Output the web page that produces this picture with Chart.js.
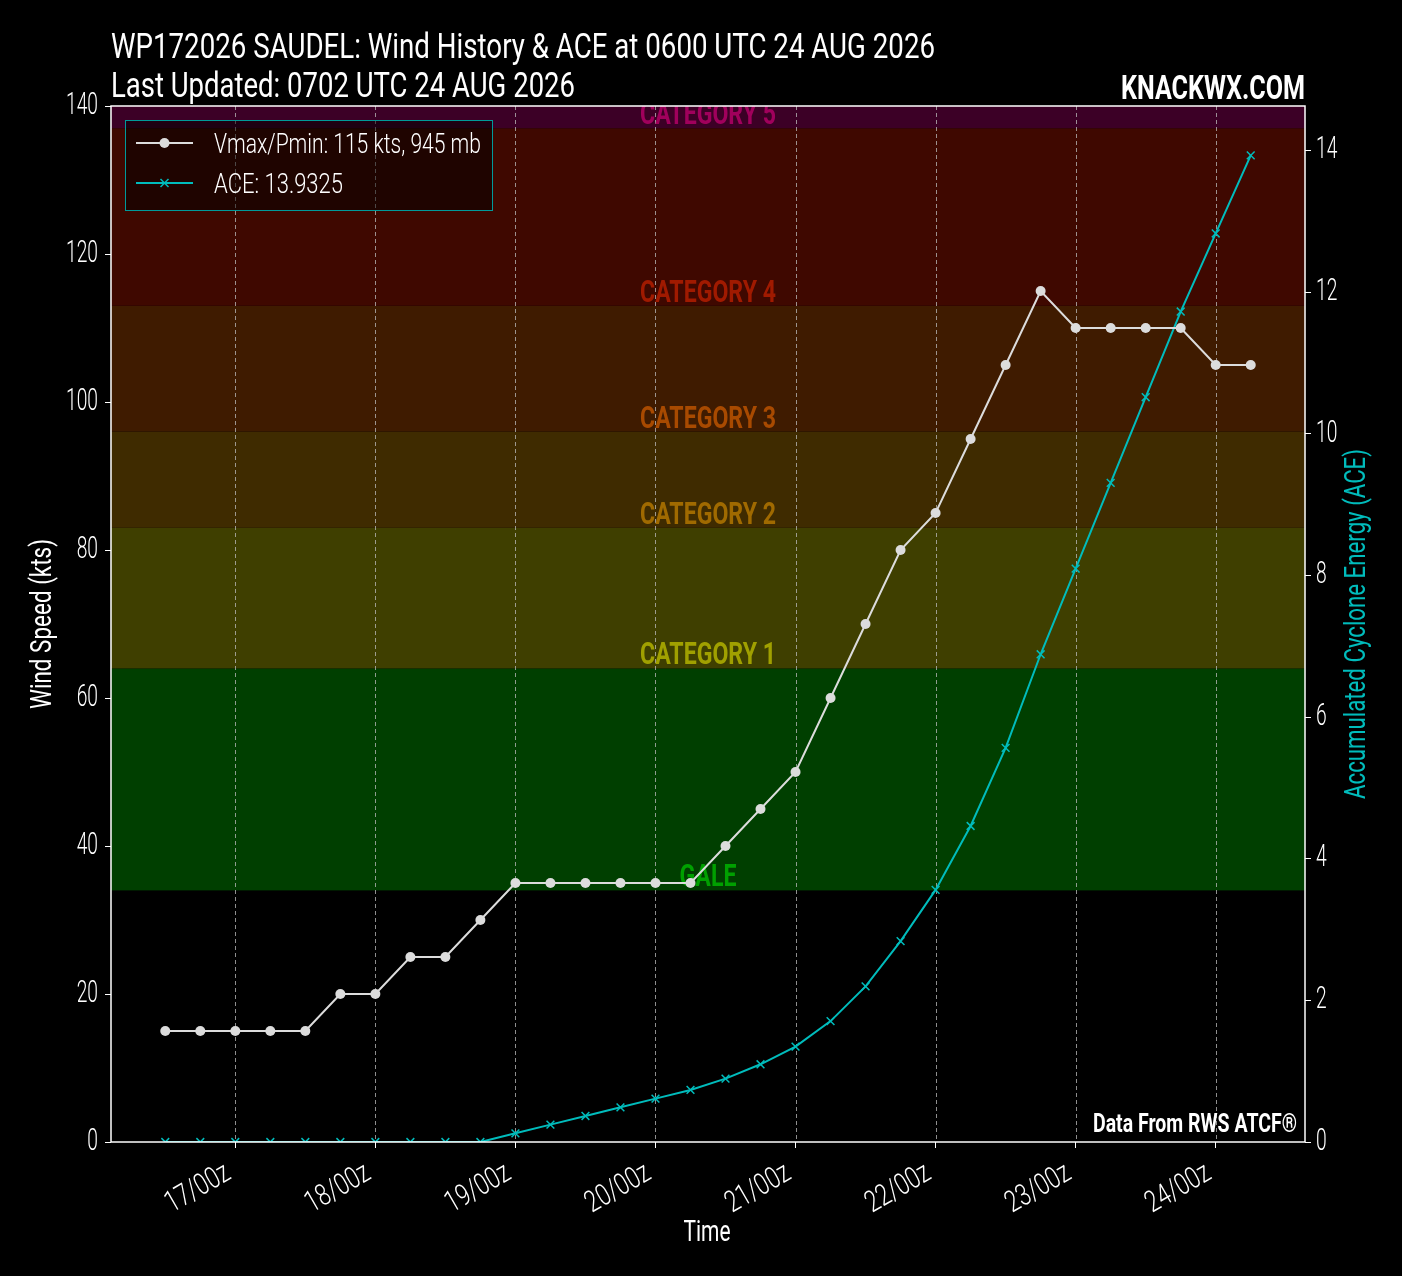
<!DOCTYPE html>
<html>
<head>
<meta charset="utf-8">
<script src="https://cdn.jsdelivr.net/npm/chart.js@4.4.1/dist/chart.umd.min.js"></script>
<style>
html,body{margin:0;padding:0;background:#000;}
#wrap{position:relative;width:1402px;height:1276px;}
canvas{display:block;}
</style>
</head>
<body>
<div id="wrap"><canvas id="c" width="1402" height="1276"></canvas></div>
<script>
// ---- data ----
// hours since 16/00z, 6-hourly fixes
const fixHours = [12,18,24,30,36,42,48,54,60,66,72,78,84,90,96,102,108,114,120,126,132,138,144,150,156,162,168,174,180,186,192,198];
const windKts = [15,15,15,15,15,20,20,25,25,30,35,35,35,35,35,35,40,45,50,60,70,80,85,95,105,115,110,110,110,110,105,105];
const aceValues = [0,0,0,0,0,0,0,0,0,0,0.1225,0.245,0.3675,0.49,0.6125,0.735,0.895,1.0975,1.3475,1.7075,2.1975,2.8375,3.56,4.4625,5.565,6.8875,8.0975,9.3075,10.5175,11.7275,12.83,13.9325];
const dayTickHours = [24,48,72,96,120,144,168,192];
const dayTickLabels = ['17/00z','18/00z','19/00z','20/00z','21/00z','22/00z','23/00z','24/00z'];
const windTicks = [0,20,40,60,80,100,120,140];
const aceTicks = [0,2,4,6,8,10,12,14];
const bandNames = ['GALE','CATEGORY 1','CATEGORY 2','CATEGORY 3','CATEGORY 4','CATEGORY 5'];
const bandLow = [34,64,83,96,113,137];
const bandHigh = [64,83,96,113,137,200];
const bandFill = ['#003f00','#3f3f00','#3f2b00','#3f1b00','#3f0800','#3c0026'];
const bandText = ['#00a000','#a0a000','#a06a00','#a84a00','#a01a00','#a0005c'];
const titleLine1 = 'WP172026 SAUDEL: Wind History & ACE at 0600 UTC 24 AUG 2026';
const titleLine2 = 'Last Updated: 0702 UTC 24 AUG 2026';
const legendWind = 'Vmax/Pmin: 115 kts, 945 mb';
const legendAce = 'ACE: 13.9325';

const FONT = 'Roboto, "Noto Sans", sans-serif';
const WIND_COLOR = '#dcdcdc';
const ACE_COLOR = '#00bcbc';

const xMin = 12 - 9.3, xMax = 198 + 9.3;

// condensed text helper: squeezes text horizontally to mimic a narrow face
function txt(ctx, s, x, y, o) {
  ctx.save();
  ctx.translate(x, y);
  if (o.rot) ctx.rotate(o.rot);
  ctx.font = o.font;
  const w = ctx.measureText(s).width;
  const k = o.width ? o.width / w : (o.k || 1);
  ctx.scale(k, 1);
  ctx.fillStyle = o.color || '#ffffff';
  ctx.textAlign = 'left';
  ctx.textBaseline = o.baseline || 'alphabetic';
  const off = o.align === 'right' ? -w : o.align === 'center' ? -w / 2 : 0;
  ctx.fillText(s, off, 0);
  ctx.restore();
}
function kFor(ctx, s, font, width) { ctx.save(); ctx.font = font; const w = ctx.measureText(s).width; ctx.restore(); return width / w; }

const bandsPlugin = {
  id: 'bands',
  beforeDatasetsDraw(chart) {
    const {ctx, chartArea: a, scales} = chart;
    const y = scales.y;
    ctx.save();
    ctx.beginPath();
    ctx.rect(a.left, a.top, a.right - a.left, a.bottom - a.top);
    ctx.clip();
    for (let i = 0; i < bandNames.length; i++) {
      const y1 = y.getPixelForValue(bandHigh[i]);
      const y0 = y.getPixelForValue(bandLow[i]);
      ctx.fillStyle = bandFill[i];
      ctx.fillRect(a.left, y1, a.right - a.left, y0 - y1);
    }
    // vertical dashed grid
    const x = scales.x;
    ctx.strokeStyle = 'rgba(190,190,190,0.75)';
    ctx.lineWidth = 1;
    ctx.setLineDash([4, 3]);
    dayTickHours.forEach(h => {
      const px = Math.round(x.getPixelForValue(h)) + 0.5;
      ctx.beginPath();
      ctx.moveTo(px, a.top);
      ctx.lineTo(px, a.bottom);
      ctx.stroke();
    });
    ctx.setLineDash([]);
    const bf = 'bold 32px ' + FONT;
    const kb = kFor(ctx, 'CATEGORY 4', bf, 136);
    const cx = (a.left + a.right) / 2;
    for (let i = 0; i < bandNames.length; i++) {
      txt(ctx, bandNames[i], cx, y.getPixelForValue(bandLow[i]) - 4, {font: bf, k: kb, align: 'center', color: bandText[i]});
    }
    ctx.restore();
  },
  afterDraw(chart) {
    const {ctx, chartArea: a, scales} = chart;
    ctx.save();
    // frame
    ctx.strokeStyle = '#ffffff';
    ctx.lineWidth = 1.5;
    ctx.strokeRect(a.left, a.top, a.right - a.left, a.bottom - a.top);
    // titles
    txt(ctx, titleLine1, 111, 58, {font: '35px ' + FONT, width: 824});
    txt(ctx, titleLine2, 111, 97, {font: '35px ' + FONT, width: 464});
    txt(ctx, 'KNACKWX.COM', 1305, 99, {font: 'bold 34px ' + FONT, width: 184, align: 'right'});
    txt(ctx, 'Data From RWS ATCF®', 1297, 1132, {font: 'bold 26px ' + FONT, width: 204, align: 'right'});
    // tick labels
    const tf = '300 31px ' + FONT;
    const kt = kFor(ctx, '140', tf, 32);
    windTicks.forEach(v => {
      txt(ctx, String(v), 98, scales.y.getPixelForValue(v), {font: tf, k: kt, align: 'right', baseline: 'middle'});
    });
    aceTicks.forEach(v => {
      txt(ctx, String(v), 1316, scales.y2.getPixelForValue(v), {font: tf, k: kt, align: 'left', baseline: 'middle'});
    });
    const xf = '300 30px ' + FONT;
    const kx = kFor(ctx, '17/00z', xf, 70);
    dayTickHours.forEach((h, i) => {
      txt(ctx, dayTickLabels[i], scales.x.getPixelForValue(h) - 3, 1178, {font: xf, k: kx, align: 'right', rot: -Math.PI / 6});
    });
    // axis titles
    txt(ctx, 'Time', 707, 1241, {font: '29px ' + FONT, width: 47, align: 'center'});
    txt(ctx, 'Wind Speed (kts)', 51, (a.top + a.bottom) / 2, {font: '29px ' + FONT, width: 170, align: 'center', rot: -Math.PI / 2});
    txt(ctx, 'Accumulated Cyclone Energy (ACE)', 1365, (a.top + a.bottom) / 2, {font: '29px ' + FONT, width: 350, align: 'center', rot: -Math.PI / 2, color: ACE_COLOR});
    // legend
    const lx = 125, ly = 120, lw = 367, lh = 90;
    ctx.fillStyle = 'rgba(0,0,0,0.5)';
    ctx.fillRect(lx, ly, lw, lh);
    ctx.strokeStyle = '#009a9a';
    ctx.lineWidth = 1;
    ctx.strokeRect(lx + 0.5, ly + 0.5, lw, lh);
    ctx.strokeStyle = WIND_COLOR;
    ctx.lineWidth = 2;
    ctx.beginPath(); ctx.moveTo(136, 143); ctx.lineTo(193, 143); ctx.stroke();
    ctx.fillStyle = WIND_COLOR;
    ctx.beginPath(); ctx.arc(164.5, 143, 5, 0, Math.PI * 2); ctx.fill();
    ctx.strokeStyle = ACE_COLOR;
    ctx.beginPath(); ctx.moveTo(136, 183); ctx.lineTo(193, 183); ctx.stroke();
    ctx.lineWidth = 1.5;
    ctx.beginPath();
    ctx.moveTo(160.5, 179); ctx.lineTo(168.5, 187);
    ctx.moveTo(168.5, 179); ctx.lineTo(160.5, 187);
    ctx.stroke();
    const lf = '300 28px ' + FONT;
    txt(ctx, legendWind, 214, 153, {font: lf, width: 267});
    txt(ctx, legendAce, 214, 193, {font: lf, width: 129});
    ctx.restore();
  }
};

new Chart(document.getElementById('c'), {
  type: 'line',
  data: {
    datasets: [
      {
        label: legendWind,
        data: fixHours.map((h, i) => ({x: h, y: windKts[i]})),
        yAxisID: 'y',
        borderColor: WIND_COLOR,
        backgroundColor: WIND_COLOR,
        borderWidth: 2,
        pointRadius: 5,
        pointHoverRadius: 5,
        pointBorderWidth: 0,
        pointStyle: 'circle',
        tension: 0,
        order: 1
      },
      {
        label: legendAce,
        data: fixHours.map((h, i) => ({x: h, y: aceValues[i]})),
        yAxisID: 'y2',
        borderColor: ACE_COLOR,
        backgroundColor: ACE_COLOR,
        borderWidth: 2,
        pointRadius: 5.5,
        pointHoverRadius: 5.5,
        pointBorderWidth: 1.5,
        pointStyle: 'crossRot',
        tension: 0,
        order: 2
      }
    ]
  },
  options: {
    responsive: false,
    animation: false,
    devicePixelRatio: 1,
    layout: {padding: {top: 106, left: 0, right: 0, bottom: 0}},
    plugins: {legend: {display: false}, tooltip: {enabled: false}},
    scales: {
      x: {
        type: 'linear',
        min: xMin, max: xMax,
        afterBuildTicks(s) { s.ticks = dayTickHours.map(v => ({value: v})); },
        afterFit(s) { s.height = 134; },
        ticks: {display: false},
        grid: {display: true, drawOnChartArea: false, drawTicks: true, tickLength: 6, tickColor: '#ffffff'},
        border: {display: false}
      },
      y: {
        position: 'left',
        min: 0, max: 140,
        afterBuildTicks(s) { s.ticks = windTicks.map(v => ({value: v})); },
        afterFit(s) { s.width = 111; },
        ticks: {display: false},
        grid: {drawOnChartArea: false, tickLength: 6, tickColor: '#ffffff'},
        border: {display: false}
      },
      y2: {
        position: 'right',
        min: 0, max: 14.63,
        afterBuildTicks(s) { s.ticks = aceTicks.map(v => ({value: v})); },
        afterFit(s) { s.width = 97; },
        ticks: {display: false},
        grid: {drawOnChartArea: false, tickLength: 6, tickColor: '#ffffff'},
        border: {display: false}
      }
    }
  },
  plugins: [bandsPlugin]
});
</script>
</body>
</html>
